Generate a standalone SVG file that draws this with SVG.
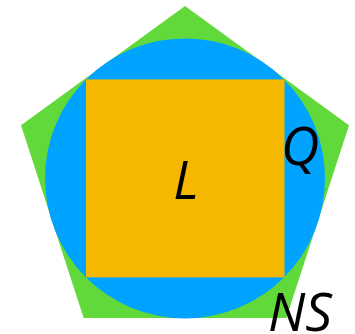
<svg xmlns="http://www.w3.org/2000/svg" width="355" height="334" viewBox="0 0 355 334">
<style>
.lbl{font-family:"Open Sans","Noto Sans","DejaVu Sans",sans-serif;font-style:italic;font-size:53px;fill:#000}
</style>
<rect width="355" height="334" fill="#fff"/>
<g id="pentagon"><polygon points="185,6 349,125.3 286.3,318 83.7,318 21,125.3" fill="#62d93a"/></g>
<g id="circle"><circle cx="185" cy="178.4" r="140" fill="#00a3ff"/></g>
<g id="square"><rect x="86" y="79.4" width="198.5" height="198" fill="#f5b800"/></g>
<g id="labels">
<text class="lbl" x="186" y="199" text-anchor="middle">L</text>
<text class="lbl" x="300" y="165" text-anchor="middle">Q</text>
<text class="lbl" x="300" y="331" text-anchor="middle">NS</text>
</g>
<g id="connectors"/>
</svg>
